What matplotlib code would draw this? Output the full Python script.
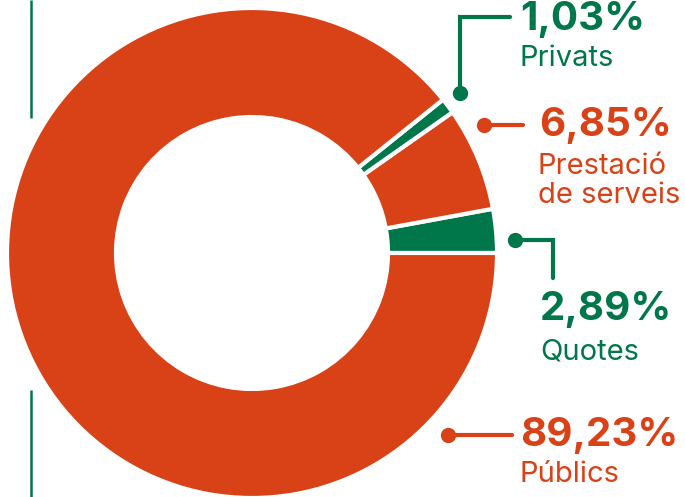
import matplotlib.pyplot as plt

# data
labels = ['Quotes', 'Prestació\nde serveis', 'Privats', 'Públics']
values = [2.89, 6.85, 1.03, 89.23]
pct_text = ['2,89%', '6,85%', '1,03%', '89,23%']

ORANGE = '#D94116'
GREEN = '#00774A'
colors = [GREEN, ORANGE, GREEN, ORANGE]

plt.rcParams['font.family'] = ['Inter', 'DejaVu Sans']

fig = plt.figure(figsize=(6.85, 4.97), dpi=100)
ax = fig.add_axes([0, 0, 1, 1])

# decorative vertical line on the left
ax.plot([31, 31], [0, 118], color=GREEN, lw=1.8, solid_capstyle='butt')
ax.plot([31, 31], [390, 497], color=GREEN, lw=1.8, solid_capstyle='butt')

ax.pie(values, colors=colors, startangle=0, counterclock=False,
       center=(252, 253), radius=245, frame=True,
       wedgeprops=dict(width=109, edgecolor='white', linewidth=3))
ax.set_xlim(0, 685)
ax.set_ylim(497, 0)
ax.set_aspect('equal')
ax.axis('off')

# leader lines (dot at first point) and text positions
leaders = [
    [(515, 240), (553, 240), (553, 278)],
    [(484, 125), (523, 125)],
    [(460, 93), (460, 17), (510, 17)],
    [(448, 435), (512, 435)],
]
pct_pos = [(540, 310), (539, 125), (520, 20), (520, 435)]
lab_pos = [(540, 352), (538, 181), (520, 58), (520, 475)]

for i in range(len(values)):
    c = colors[i]
    xs = [p[0] for p in leaders[i]]
    ys = [p[1] for p in leaders[i]]
    ax.plot(xs, ys, color=c, lw=3, solid_capstyle='round', solid_joinstyle='miter')
    ax.plot(xs[0], ys[0], 'o', color=c, ms=10)
    ax.text(pct_pos[i][0], pct_pos[i][1], pct_text[i], color=c, fontsize=29,
            fontweight='bold', ha='left', va='center')
    ax.text(lab_pos[i][0], lab_pos[i][1], labels[i], color=c, fontsize=21,
            ha='left', va='center', linespacing=1.05)

fig.savefig('out.png', dpi=100)
